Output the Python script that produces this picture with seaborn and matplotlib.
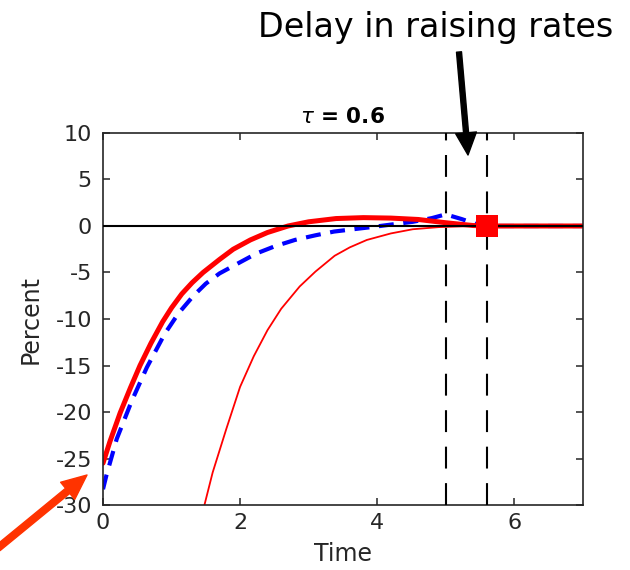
import numpy as np
import pandas as pd
import matplotlib
matplotlib.use("Agg")
import matplotlib.pyplot as plt
import seaborn as sns

# thick red: optimal path
t_opt = [0, 0.1, 0.25, 0.4, 0.54, 0.7, 0.87, 1.0, 1.15, 1.3, 1.46, 1.7, 1.9, 2.15, 2.4, 2.7, 3.0, 3.4, 3.8, 4.2, 4.6, 5.0, 5.4, 5.6, 6.0, 7.0]
y_opt = [-25.5, -23.2, -20.1, -17.4, -15.0, -12.6, -10.3, -8.8, -7.3, -6.1, -5.0, -3.6, -2.5, -1.5, -0.7, 0.0, 0.45, 0.8, 0.9, 0.85, 0.7, 0.35, 0.05, 0.0, 0.0, 0.0]

# blue dashed: delayed path
t_blue = [0, 0.05, 0.2, 0.42, 0.64, 0.9, 1.1, 1.32, 1.5, 1.7, 2.0, 2.24, 2.5, 2.8, 3.1, 3.37, 3.65, 3.94, 4.2, 4.52, 4.8, 5.0, 5.23, 5.45, 5.6, 6.0, 7.0]
y_blue = [-28.3, -26.8, -22.9, -18.8, -15.2, -11.6, -9.4, -7.5, -6.2, -5.1, -3.9, -2.95, -2.2, -1.5, -1.0, -0.6, -0.35, -0.1, 0.15, 0.45, 0.85, 1.25, 0.75, 0.2, 0.0, 0.0, 0.0]

# thin red
t_thin = [1.48, 1.6, 1.8, 2.0, 2.2, 2.4, 2.6, 2.87, 3.1, 3.38, 3.6, 3.85, 4.2, 4.52, 4.9, 5.4, 6.0, 7.0]
y_thin = [-30.0, -26.5, -21.8, -17.3, -14.0, -11.2, -8.9, -6.5, -4.9, -3.2, -2.3, -1.5, -0.8, -0.35, -0.12, 0.0, 0.0, 0.0]

t_lines = [5.0, 5.6]
sq_t = [5.6]
sq_y = [0.0]

x_ticks = [0, 2, 4, 6]
y_ticks = [-30, -25, -20, -15, -10, -5, 0, 5, 10]

sns.set_theme(style="ticks")
plt.rcParams["font.family"] = ["DejaVu Sans"]
plt.rcParams["mathtext.fontset"] = "dejavusans"
plt.rcParams["axes.unicode_minus"] = False

fig = plt.figure(figsize=(6.3, 5.7), dpi=100)
ax = fig.add_axes([0.1635, 0.114, 0.7615, 0.6527])

dark = "#262626"

sns.lineplot(x=t_blue, y=y_blue, color="#0000ff", lw=3.0, ax=ax, zorder=1)
ax.lines[-1].set_dashes((3.6, 2.3))
sns.lineplot(x=t_opt, y=y_opt, color="#ff0000", lw=3.6, ax=ax, zorder=2)
sns.lineplot(x=t_thin, y=y_thin, color="#ff0000", lw=1.3, ax=ax, zorder=2)
ax.axhline(0, color="black", lw=1.5, zorder=3)
for tl in t_lines:
    ax.axvline(tl, color="black", lw=1.5, dashes=(10.5, 7), zorder=4)
sns.scatterplot(x=sq_t, y=sq_y, marker="s", s=250, color="#ff0000",
                edgecolor="none", ax=ax, zorder=5)

ax.set_xlim(0, 7)
ax.set_ylim(-30, 10)
ax.set_xticks(x_ticks)
ax.set_yticks(y_ticks)
ax.tick_params(direction="in", length=5, width=1.1, top=True, right=True,
               labelsize=16, colors=dark, pad=6)
ax.tick_params(axis="y", pad=8)
for sp in ax.spines.values():
    sp.set_visible(True)
    sp.set_color(dark)
    sp.set_linewidth(1.2)

ax.set_xlabel("Time", fontsize=17, color=dark, labelpad=6)
ax.set_ylabel("Percent", fontsize=17, color=dark, labelpad=9)
ax.set_title(r"$\tau$ = 0.6", fontsize=15.5, fontweight="bold", color="black", pad=7)

fig.text(0.692, 1 - 37 / 570, "Delay in raising rates", fontsize=24, ha="center",
         va="baseline", color="black")

# black arrow
ax.annotate("", xy=(468 / 630, 1 - 155 / 570), xytext=(459 / 630, 1 - 52 / 570),
            xycoords="figure fraction", textcoords="figure fraction",
            arrowprops=dict(arrowstyle="simple,head_length=0.8,head_width=0.75,tail_width=0.18",
                            color="black", mutation_scale=20, shrinkA=0, shrinkB=0),
            annotation_clip=False)

# red arrow
ax.annotate("", xy=(87 / 630, 1 - 475 / 570), xytext=(-2 / 630, 1 - 548 / 570),
            xycoords="figure fraction", textcoords="figure fraction",
            arrowprops=dict(arrowstyle="simple,head_length=0.9,head_width=0.8,tail_width=0.24",
                            color="#ff3300", mutation_scale=20, shrinkA=0, shrinkB=0),
            annotation_clip=False)

fig.savefig("out.png", dpi=100, facecolor="white")
